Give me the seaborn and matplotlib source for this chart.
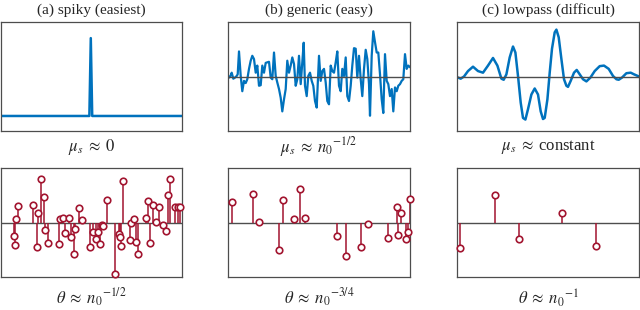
import numpy as np
import pandas as pd
import matplotlib
matplotlib.use("Agg")
import matplotlib.pyplot as plt
import seaborn as sns

# ---------------- data ----------------
titles = ["(a) spiky (easiest)", "(b) generic (easy)", "(c) lowpass (difficult)"]
top_labels = [r"$\mu_s\;\approx\;0$", r"$\mu_s\;\approx\;{n_0}^{-1/2}$", r"$\mu_s\;\approx\;$constant"]
bottom_labels = [r"$\theta\;\approx\;{n_0}^{-1/2}$", r"$\theta\;\approx\;{n_0}^{-3/4}$", r"$\theta\;\approx\;{n_0}^{-1}$"]

# (a) spiky signal: all zeros except one spike
spiky_length = 128
spike_index = 63
spike_height = 1.0

# (b) generic signal (position, value)
generic_x = [1.0, 2.7, 3.7, 5.3, 7.0, 8.7, 9.7, 11.0, 12.7, 14.3, 16.0, 17.7, 19.3, 21.0, 22.7,
             24.3, 26.0, 27.7, 29.3, 31.0, 32.7, 34.3, 36.0, 37.7, 39.3, 41.0, 42.7, 44.3, 46.0,
             47.7, 49.3, 51.0, 52.7, 54.3, 56.0, 57.7, 59.3, 61.0, 62.7, 64.3, 66.0, 67.7, 69.3,
             71.0, 72.7, 74.3, 75.7, 77.0, 78.7, 80.3, 82.0, 83.7, 85.3, 87.0, 88.7, 91.0, 92.7,
             94.3, 96.0, 97.7, 99.3, 101.0, 102.7, 104.3, 106.0, 107.7, 109.3, 111.0, 112.7,
             114.3, 116.0, 117.7, 119.3, 121.0, 122.7, 124.3, 126.0, 127.7, 129.3, 131.0, 132.7,
             134.3, 136.0, 137.7, 139.3, 141.0, 142.0, 143.7, 145.3, 147.0, 148.7, 150.3, 152.0,
             153.7, 155.3, 157.0, 158.7, 160.3, 162.0, 163.7, 165.3, 167.0, 168.7, 170.3, 172.0,
             173.7, 175.3, 177.0, 178.7, 180.3, 182.0]
generic_y = [-0.02, 0.02, 0.07, -0.04, -0.02, 0.01, 0.04, 0.46, 0.01, -0.27, -0.08, -0.12, -0.05,
             0.14, 0.29, 0.38, 0.32, 0.07, 0.20, -0.17, -0.16, 0.20, 0.07, 0.25, 0.26, 0.27, -0.02,
             -0.05, 0.44, 0.01, -0.11, -0.23, -0.39, -0.64, -0.42, -0.23, 0.29, 0.07, 0.20, 0.35,
             0.23, -0.17, -0.05, 0.38, -0.14, 0.26, 0.62, -0.17, -0.36, 0.01, 0.07, -0.08, -0.17,
             -0.45, -0.57, 0.38, -0.08, 0.10, 0.14, -0.11, -0.45, -0.51, 0.20, 0.10, 0.07, 0.26,
             0.46, -0.17, -0.27, 0.14, 0.01, 0.35, -0.36, -0.45, -0.17, 0.20, 0.52, 0.51, -0.02,
             0.38, -0.05, -0.36, 0.14, 0.49, 0.32, -0.14, -0.72, 0.38, 0.83, 0.63, 0.44, 0.44, 0.04,
             -0.42, -0.67, 0.41, -0.08, -0.14, -0.36, -0.23, -0.64, -0.20, -0.27, -0.17, -0.14,
             -0.08, -0.05, 0.41, 0.14, 0.20, 0.17]

# (c) lowpass signal (position, value)
lowpass_x = [0.0, 1.0, 3.7, 7.0, 11.0, 16.0, 21.0, 26.0, 31.0, 36.0, 40.4, 44.4, 46.7, 49.4, 52.7,
             56.0, 58.4, 61.0, 63.7, 66.0, 68.4, 71.0, 74.4, 77.7, 81.0, 83.7, 86.0, 87.7, 90.4,
             92.7, 95.0, 97.7, 99.4, 101.7, 104.4, 107.0, 109.4, 111.0, 113.7, 117.0, 119.7, 122.7,
             126.0, 129.4, 133.4, 137.7, 142.7, 147.0, 151.7, 156.0, 159.4, 161.7, 165.0, 169.4,
             173.7, 177.0, 182.0]
lowpass_y = [-0.01, -0.02, -0.04, 0.0, 0.10, 0.18, 0.10, 0.07, 0.20, 0.34, 0.20, -0.04, -0.06,
             0.04, 0.35, 0.55, 0.44, 0.01, -0.48, -0.76, -0.79, -0.60, -0.33, -0.22, -0.33, -0.64,
             -0.78, -0.76, -0.42, 0.07, 0.51, 0.81, 0.86, 0.72, 0.32, -0.05, -0.17, -0.19, -0.08,
             0.07, 0.12, 0.04, -0.05, -0.09, -0.02, 0.10, 0.19, 0.20, 0.14, 0.01, -0.05, -0.06,
             -0.02, 0.06, 0.07, 0.04, 0.0]

# (a) coefficients, spiky case
theta_a_x = [13.0, 14.0, 14.7, 17.3, 31.7, 36.3, 37.3, 40.7, 43.3, 44.0, 47.3, 58.0, 59.7, 62.3,
             64.0, 68.7, 70.3, 73.0, 74.7, 78.3, 81.3, 89.0, 92.3, 95.7, 97.3, 100.0, 101.7,
             102.3, 106.7, 115.0, 118.3, 120.0, 121.0, 122.7, 129.7, 131.0, 134.0, 135.3, 137.3,
             146.3, 148.0, 150.0, 153.0, 155.7, 159.3, 163.0, 166.0, 168.0, 169.7, 175.0, 177.7,
             180.0]
theta_a_y = [-0.24, -0.42, 0.07, 0.30, 0.32, -0.45, 0.18, 0.80, 0.46, -0.14, -0.37, -0.40, 0.07,
             0.09, -0.20, 0.09, -0.26, -0.57, -0.12, 0.27, 0.04, -0.45, -0.17, -0.31, -0.17,
             -0.40, -0.04, -0.07, 0.42, -0.95, -0.21, -0.27, -0.44, 0.77, -0.32, -0.01, 0.07,
             -0.35, -0.57, 0.09, 0.39, -0.37, 0.33, 0.01, 0.29, -0.05, -0.15, 0.51, 0.79, 0.29,
             0.29, 0.29]

# (b) coefficients, generic case
theta_b_x = [4.3, 25.3, 31.3, 51.0, 54.7, 65.7, 72.0, 76.7, 109.0, 117.7, 133.3, 140.0, 160.3,
             168.7, 170.3, 173.0, 177.7, 180.3, 182.0]
theta_b_y = [0.38, 0.52, 0.01, -0.51, 0.42, 0.07, 0.61, 0.09, -0.24, -0.61, -0.45, -0.03, -0.28,
             0.28, -0.23, 0.18, -0.31, -0.17, 0.44]

# (c) coefficients, lowpass case
theta_c_x = [2.7, 38.3, 62.0, 104.7, 138.7]
theta_c_y = [-0.47, 0.51, -0.31, 0.17, -0.43]

# ---------------- style ----------------
sns.set_theme(style="white")
plt.rcParams["font.family"] = ["Liberation Serif", "DejaVu Serif"]
plt.rcParams["mathtext.fontset"] = "stix"

BLUE = "#0072BD"
RED = "#A2142F"
GRAY = "#4d4d4d"

fig = plt.figure(figsize=(6.4, 3.1), dpi=100)
W, H = 640.0, 310.0
cols = [(1, 182), (228, 410), (457, 639)]
top_rows = (22, 131)
bot_rows = (168, 277)


def make_ax(c, rows):
    x0, x1 = c
    y0, y1 = rows
    ax = fig.add_axes([x0 / W, 1 - y1 / H, (x1 - x0) / W, (y1 - y0) / H])
    ax.set_xticks([])
    ax.set_yticks([])
    for s in ax.spines.values():
        s.set_color(GRAY)
        s.set_linewidth(0.9)
        s.set_visible(True)
    return ax


# top row
spiky = np.zeros(spiky_length)
spiky[spike_index] = spike_height
ax = make_ax(cols[0], top_rows)
sns.lineplot(x=np.arange(spiky_length), y=spiky, ax=ax, color=BLUE, lw=1.8)
ax.set_xlim(0, spiky_length - 1)
ax.set_ylim(-0.193, 1.207)

ax = make_ax(cols[1], top_rows)
sns.lineplot(x=generic_x, y=generic_y, ax=ax, color=BLUE, lw=1.6, sort=False)
ax.axhline(0, color=GRAY, lw=1.0, zorder=3)
ax.set_xlim(0, 182)
ax.set_ylim(-1, 1)

ax = make_ax(cols[2], top_rows)
sns.lineplot(x=lowpass_x, y=lowpass_y, ax=ax, color=BLUE, lw=1.8, sort=False)
ax.axhline(0, color=GRAY, lw=1.0, zorder=3)
ax.set_xlim(0, 182)
ax.set_ylim(-1, 1)

# bottom row (stems)
for c, xs, ys in zip(cols, [theta_a_x, theta_b_x, theta_c_x], [theta_a_y, theta_b_y, theta_c_y]):
    ax = make_ax(c, bot_rows)
    ax.axhline(0, color=GRAY, lw=1.0, zorder=1)
    ax.vlines(xs, 0, ys, color=RED, lw=1.1, zorder=2, clip_on=False)
    sns.scatterplot(x=xs, y=ys, ax=ax, marker="o", s=22, facecolor="white",
                    edgecolor=RED, linewidth=1.2, zorder=3, clip_on=False)
    ax.set_xlim(0, 182)
    ax.set_ylim(-1, 1)

for a in fig.axes:
    a.set_xlabel("")
    a.set_ylabel("")

# text
for c, t, tl, bl in zip(cols, titles, top_labels, bottom_labels):
    cx = (c[0] + c[1]) / 2 / W
    fig.text(cx, 1 - 10 / H, t, ha="center", va="center", fontsize=11)
    fig.text(cx, 1 - 147 / H, tl, ha="center", va="center", fontsize=12)
    fig.text(cx, 1 - 298 / H, bl, ha="center", va="center", fontsize=12)

fig.savefig("out.png", dpi=100)
